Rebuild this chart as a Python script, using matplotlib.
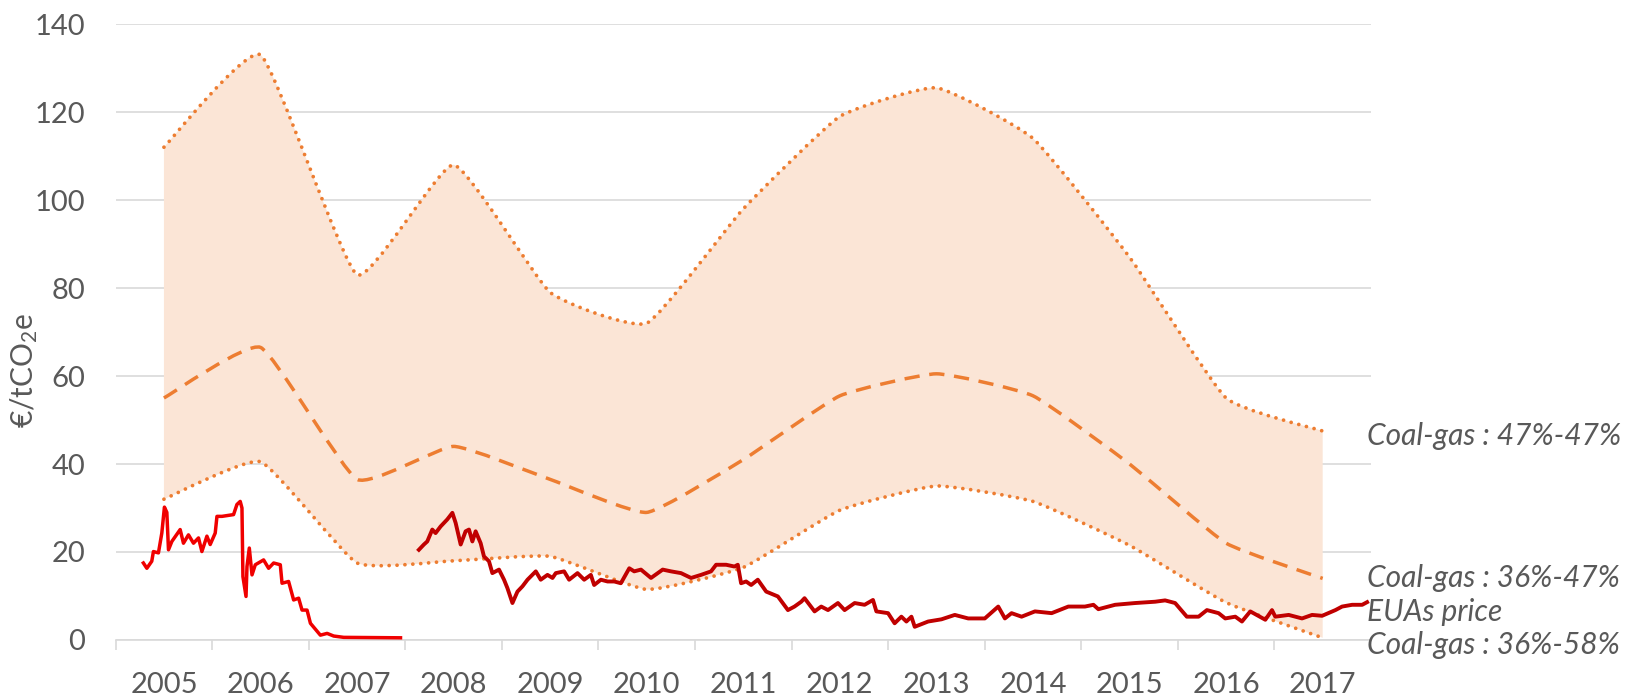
import numpy as np
import matplotlib
matplotlib.use("Agg")
import matplotlib.pyplot as plt
from matplotlib.path import Path
from matplotlib.patches import PathPatch

plt.rcParams['font.family'] = ['Lato', 'DejaVu Sans']
plt.rcParams['mathtext.fontset'] = 'custom'
plt.rcParams['mathtext.rm'] = 'Lato'
plt.rcParams['mathtext.default'] = 'regular'

# yearly break-even carbon prices (EUR/tCO2e)
years = [2005, 2006, 2007, 2008, 2009, 2010, 2011, 2012, 2013, 2014, 2015, 2016, 2017]
coal_gas_47_47 = [112, 133, 83, 108, 79, 72, 98, 119, 125.5, 114, 87, 55, 47.5]
coal_gas_36_47 = [55, 66.5, 36.5, 44, 36.5, 29, 41, 55.5, 60.5, 55.5, 40, 22, 14]
coal_gas_36_58 = [32, 40.5, 17.5, 18, 19, 11.5, 16.5, 29.5, 35, 31.5, 21.5, 8.5, 0.5]

# EUA price, phase 1 (decimal year, price)
eua1_t = [2005.287, 2005.323, 2005.374, 2005.391, 2005.443, 2005.478, 2005.505, 2005.530,
          2005.547, 2005.582, 2005.668, 2005.702, 2005.754, 2005.806, 2005.858, 2005.893,
          2005.945, 2005.979, 2006.031, 2006.049, 2006.101, 2006.221, 2006.256, 2006.290,
          2006.308, 2006.318, 2006.350, 2006.360, 2006.384, 2006.412, 2006.446, 2006.532,
          2006.584, 2006.636, 2006.705, 2006.723, 2006.791, 2006.843, 2006.895, 2006.930,
          2006.982, 2007.017, 2007.120, 2007.190, 2007.258, 2007.362, 2007.950]
eua1_v = [17.5, 16.3, 17.9, 20.1, 19.8, 24.3, 30.2, 29.0,
          20.5, 22.4, 25.1, 22.0, 23.9, 22.0, 23.2, 20.1,
          23.6, 21.7, 24.3, 28.1, 28.1, 28.5, 30.8, 31.5,
          30.0, 14.4, 9.9, 16.7, 20.9, 14.8, 17.1, 18.2,
          16.3, 17.5, 17.1, 12.9, 13.3, 9.1, 9.5, 6.8,
          6.8, 3.8, 1.1, 1.5, 0.9, 0.6, 0.5]

# EUA price, phase 2 onwards
eua2_t = [2008.140, 2008.192, 2008.227, 2008.279, 2008.313, 2008.365, 2008.434, 2008.487,
          2008.521, 2008.573, 2008.624, 2008.659, 2008.694, 2008.728, 2008.780, 2008.814,
          2008.866, 2008.901, 2008.970, 2009.022, 2009.057, 2009.109, 2009.161, 2009.213,
          2009.265, 2009.351, 2009.402, 2009.472, 2009.524, 2009.558, 2009.644, 2009.696,
          2009.783, 2009.852, 2009.921, 2009.955, 2010.025, 2010.094, 2010.163, 2010.232,
          2010.319, 2010.370, 2010.440, 2010.544, 2010.665, 2010.751, 2010.855, 2010.959,
          2011.062, 2011.166, 2011.218, 2011.322, 2011.408, 2011.443, 2011.477, 2011.529,
          2011.581, 2011.650, 2011.737, 2011.858, 2011.962, 2012.030, 2012.100, 2012.134,
          2012.238, 2012.307, 2012.377, 2012.480, 2012.549, 2012.653, 2012.756, 2012.843,
          2012.878, 2012.999, 2013.067, 2013.137, 2013.189, 2013.241, 2013.275, 2013.414,
          2013.552, 2013.690, 2013.829, 2014.001, 2014.140, 2014.209, 2014.278, 2014.382,
          2014.520, 2014.693, 2014.866, 2015.038, 2015.126, 2015.177, 2015.350, 2015.557,
          2015.765, 2015.868, 2015.972, 2016.093, 2016.215, 2016.301, 2016.422, 2016.491,
          2016.595, 2016.664, 2016.750, 2016.906, 2016.975, 2017.009, 2017.148, 2017.286,
          2017.390, 2017.494, 2017.632, 2017.701, 2017.805, 2017.909, 2017.960]
eua2_v = [20.5, 21.7, 22.4, 25.1, 24.3, 25.8, 27.4, 28.9,
          26.6, 21.7, 24.7, 25.1, 22.4, 24.7, 22.0, 19.0,
          17.9, 15.2, 16.0, 13.7, 11.8, 8.4, 11.0, 12.2,
          13.7, 15.6, 13.7, 14.8, 14.1, 15.2, 15.6, 13.7,
          15.2, 13.7, 14.8, 12.5, 13.7, 13.3, 13.3, 12.9,
          16.3, 15.6, 16.0, 14.1, 16.0, 15.6, 15.2, 14.1,
          14.8, 15.6, 17.1, 17.1, 16.7, 17.1, 12.9, 13.3,
          12.5, 13.7, 11.0, 9.9, 6.8, 7.6, 8.7, 9.5,
          6.5, 7.6, 6.8, 8.4, 6.8, 8.4, 8.0, 9.1,
          6.5, 6.1, 3.8, 5.3, 4.2, 5.3, 3.0, 4.2,
          4.7, 5.7, 4.9, 4.9, 7.6, 4.9, 6.1, 5.3,
          6.5, 6.1, 7.6, 7.6, 8.0, 7.0, 8.0, 8.4,
          8.7, 9.0, 8.4, 5.3, 5.3, 6.8, 6.1, 4.9,
          5.3, 4.2, 6.5, 4.6, 6.8, 5.3, 5.7, 4.9,
          5.7, 5.5, 6.8, 7.6, 8.0, 8.0, 8.6]

labels = ["Coal-gas : 47%-47%", "Coal-gas : 36%-47%", "EUAs price", "Coal-gas : 36%-58%"]
label_y = [46.3, 14.1, 6.4, -1.1]

ORANGE = "#ed7d31"
FILL = "#fbe5d6"
GREY = "#595959"
GRID = "#d9d9d9"


def smooth_verts(x, y, k=14.0):
    # lightly rounded corners, bezier through the data points
    p = np.column_stack([x, y]).astype(float)
    n = len(p)
    verts = [p[0]]
    for i in range(n - 1):
        p0 = p[i - 1] if i > 0 else p[i]
        p3 = p[i + 2] if i + 2 < n else p[i + 1]
        verts += [p[i] + (p[i + 1] - p0) / k, p[i + 1] - (p3 - p[i]) / k, p[i + 1]]
    return verts


def smooth_path(x, y):
    v = smooth_verts(x, y)
    codes = [Path.MOVETO] + [Path.CURVE4] * (len(v) - 1)
    return Path(v, codes)


xc = np.array(years) + 0.5

fig = plt.figure(figsize=(16.29, 6.98), dpi=100)
ax = fig.add_axes([0.0710, 0.0831, 0.7706, 0.8825])

# shaded range
up = smooth_verts(xc, coal_gas_47_47)
lo = smooth_verts(xc[::-1], coal_gas_36_58[::-1])
verts = up + lo + [up[0]]
codes = ([Path.MOVETO] + [Path.CURVE4] * (len(up) - 1) + [Path.LINETO]
         + [Path.CURVE4] * (len(lo) - 1) + [Path.CLOSEPOLY])
ax.add_patch(PathPatch(Path(verts, codes), facecolor=FILL, edgecolor="none", zorder=1))

dot = dict(fill=False, edgecolor=ORANGE, lw=2.7, linestyle=(0, (0.01, 2.1)), capstyle="round", zorder=3)
ax.add_patch(PathPatch(smooth_path(xc, coal_gas_47_47), **dot))
ax.add_patch(PathPatch(smooth_path(xc, coal_gas_36_58), **dot))
ax.add_patch(PathPatch(smooth_path(xc, coal_gas_36_47), fill=False, edgecolor=ORANGE, lw=2.5,
                       linestyle=(0, (4.4, 2.8)), zorder=3))

ax.plot(eua1_t, eua1_v, color="#f00000", lw=2.5, zorder=4)
ax.plot(eua2_t, eua2_v, color="#c00000", lw=2.8, zorder=4)

for txt, yv in zip(labels, label_y):
    ax.text(2017.96, yv, txt, ha="left", va="center", fontsize=21.5, style="italic",
            color=GREY, clip_on=False)

ax.set_xlim(2005, 2018)
ax.set_ylim(0, 140)
ax.set_yticks(range(0, 141, 20))
ax.yaxis.grid(True, color=GRID, lw=1.2, zorder=0)
ax.set_axisbelow(True)

ax.set_xticks(years)
ax.set_xticklabels([])
ax.set_xticks(xc, minor=True)
ax.set_xticklabels([str(y) for y in years], minor=True)
ax.tick_params(axis="x", which="major", length=7, width=1.2, color=GRID)
ax.tick_params(axis="x", which="minor", length=0, pad=23, labelsize=21, labelcolor=GREY)
ax.tick_params(axis="y", length=0, pad=22, labelsize=21, labelcolor=GREY)

for s in ["top", "right", "left"]:
    ax.spines[s].set_visible(False)
ax.spines["bottom"].set_color(GRID)
ax.spines["bottom"].set_linewidth(1.2)

ax.set_ylabel(r"€/tCO$_2$e", fontsize=21.5, color=GREY)
ax.yaxis.set_label_coords(-0.060, 0.438)

fig.savefig("out.png", dpi=100)
